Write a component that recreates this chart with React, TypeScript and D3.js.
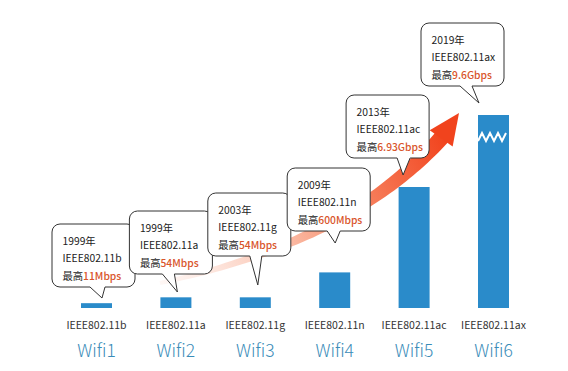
import React from "react";
import * as d3 from "d3";

const categories = ["Wifi1", "Wifi2", "Wifi3", "Wifi4", "Wifi5", "Wifi6"];
const standards = ["IEEE802.11b", "IEEE802.11a", "IEEE802.11g", "IEEE802.11n", "IEEE802.11ac", "IEEE802.11ax"];
const years = ["1999年", "1999年", "2003年", "2009年", "2013年", "2019年"];
const speedLabels = ["11Mbps", "54Mbps", "54Mbps", "600Mbps", "6.93Gbps", "9.6Gbps"];
const speedsMbps = [11, 54, 54, 600, 6930, 9600];
const broken = [false, false, false, false, false, true];

// layout (callout boxes, relative to bar centre)
const boxDx = [-44.5, -46.5, -47.5, -47.5, -68, -72.5];
const boxTop = [224, 211, 193, 168, 95, 23];
const tailBase = [[-6.5, 8.5], [-13.5, -1.5], [-5.5, 6.5], [-7.5, 5.5], [-17, -4], [-33.5, -21.5]];
const tailTip = [[5.5, 298], [1.5, 292], [2.5, 285], [0.5, 243], [-11, 175], [-14.5, 103]];

const W = 568, H = 371;
const baseY = 308, plotTop = 115;
const barW = 31;
const boxW = 83, boxH = 63, r = 8;
const FONT = "'Noto Sans CJK SC', 'Noto Sans', sans-serif";

const x = d3.scalePoint<string>().domain(categories).range([96.5, 493.5]);
const y = d3.scaleSqrt().domain([0, 6930]).range([baseY, 187]);

function calloutPath(i: number) {
  const cx = x(categories[i])!;
  const L = cx + boxDx[i], T = boxTop[i], R = L + boxW, B = T + boxH;
  const b1 = cx + tailBase[i][0], b2 = cx + tailBase[i][1];
  const tx = cx + tailTip[i][0], ty = tailTip[i][1];
  const p = d3.path();
  p.moveTo(L + r, T);
  p.lineTo(R - r, T);
  p.arcTo(R, T, R, T + r, r);
  p.lineTo(R, B - r);
  p.arcTo(R, B, R - r, B, r);
  p.lineTo(b2, B);
  p.lineTo(tx, ty);
  p.lineTo(b1, B);
  p.lineTo(L + r, B);
  p.arcTo(L, B, L, B - r, r);
  p.lineTo(L, T + r);
  p.arcTo(L, T, L + r, T, r);
  p.closePath();
  return p.toString();
}

function arrowBody() {
  const P0 = [160, 283], P1 = [350, 242], P2 = [442, 137];
  const n = 60;
  const pts: [number, number, number, number][] = [];
  for (let k = 0; k <= n; k++) {
    const t = k / n;
    const px = (1 - t) * (1 - t) * P0[0] + 2 * (1 - t) * t * P1[0] + t * t * P2[0];
    const py = (1 - t) * (1 - t) * P0[1] + 2 * (1 - t) * t * P1[1] + t * t * P2[1];
    const dx = 2 * (1 - t) * (P1[0] - P0[0]) + 2 * t * (P2[0] - P1[0]);
    const dy = 2 * (1 - t) * (P1[1] - P0[1]) + 2 * t * (P2[1] - P1[1]);
    const len = Math.hypot(dx, dy);
    pts.push([px, py, -dy / len, dx / len]);
  }
  const upper: [number, number][] = [];
  const lower: [number, number][] = [];
  pts.forEach(([px, py, nx, ny], k) => {
    const w = (4 + 12 * (k / n)) / 2;
    upper.push([px + nx * w, py + ny * w]);
    lower.push([px - nx * w, py - ny * w]);
  });
  const all = upper.concat(lower.reverse());
  return d3.line()(all)! + "Z";
}

function arrowHead() {
  const tip: [number, number] = [459, 113];
  const dir = [0.575, -0.818];
  const perp = [0.818, 0.575];
  const bx = tip[0] - 31 * dir[0], by = tip[1] - 31 * dir[1];
  const pts: [number, number][] = [
    tip,
    [bx + perp[0] * 14, by + perp[1] * 14],
    [bx - perp[0] * 14, by - perp[1] * 14],
  ];
  return d3.line()(pts)! + "Z";
}

function zigzag(cx: number) {
  const left = cx - barW / 2, right = cx + barW / 2;
  const pts: [number, number][] = [];
  const step = 4;
  let k = 0;
  for (let xx = left; xx <= right + 0.01; xx += step, k++) {
    pts.push([xx, k % 2 === 0 ? 141 : 133]);
  }
  return d3.line()(pts)!;
}

export default function App() {
  return (
    <svg width={W} height={H} style={{ position: "absolute", left: 0, top: 0, background: "#fff" }} fontFamily={FONT}>
      <defs>
        <linearGradient id="arrowGrad" gradientUnits="userSpaceOnUse" x1={160} y1={283} x2={445} y2={135}>
          <stop offset="0" stopColor="#fde4dc" stopOpacity={0.3} />
          <stop offset="0.3" stopColor="#fbc8b6" stopOpacity={0.85} />
          <stop offset="0.6" stopColor="#f8906e" stopOpacity={1} />
          <stop offset="1" stopColor="#f1431d" stopOpacity={1} />
        </linearGradient>
      </defs>
      <rect width={W} height={H} fill="#fff" />
      {/* bars */}
      {categories.map((c, i) => {
        const cx = x(c)!;
        const top = broken[i] ? plotTop : y(speedsMbps[i]);
        return (
          <g key={c}>
            <rect x={cx - barW / 2} y={top} width={barW} height={baseY - top} fill="#2a8bca" />
            {broken[i] && <path d={zigzag(cx)} fill="none" stroke="#fff" strokeWidth={2} />}
          </g>
        );
      })}
      {/* arrow */}
      <path d={arrowBody()} fill="url(#arrowGrad)" />
      <path d={arrowHead()} fill="#f1431d" />
      {/* callouts */}
      {categories.map((c, i) => {
        const cx = x(c)!;
        const L = cx + boxDx[i] + 10.5, T = boxTop[i];
        return (
          <g key={"cb" + c}>
            <path d={calloutPath(i)} fill="#fff" stroke="#333" strokeWidth={1} />
            <text x={L} y={T + 20.5} fontSize={10.3} fill="#222">{years[i]}</text>
            <text x={L} y={T + 38} fontSize={10.3} fill="#222">{standards[i]}</text>
            <text x={L} y={T + 55.5} fontSize={10.3} fill="#222">
              最高<tspan fill="#d9552b" fontWeight={500}>{speedLabels[i]}</tspan>
            </text>
          </g>
        );
      })}
      {/* axis labels */}
      {categories.map((c, i) => (
        <g key={"lab" + c}>
          <text x={x(c)!} y={329} textAnchor="middle" fontSize={10.5} fill="#333">{standards[i]}</text>
          <text x={x(c)!} y={356.5} textAnchor="middle" fontSize={17.5} fill="#3a8cb8" fontWeight={300}>{c}</text>
        </g>
      ))}
    </svg>
  );
}
